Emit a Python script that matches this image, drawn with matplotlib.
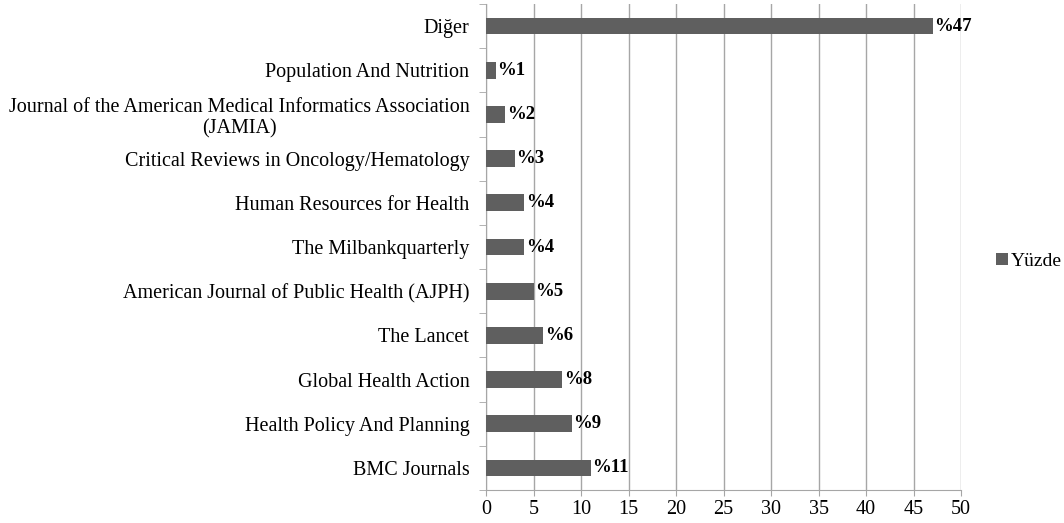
import matplotlib.pyplot as plt

plt.rcParams['font.family'] = ['Liberation Serif', 'DejaVu Serif']

# Data (top to bottom as in the chart)
journals = ['Diğer',
            'Population And Nutrition',
            'Journal of the American Medical Informatics Association\n(JAMIA)',
            'Critical Reviews in Oncology/Hematology',
            'Human Resources for Health',
            'The Milbankquarterly',
            'American Journal of Public Health (AJPH)',
            'The Lancet',
            'Global Health Action',
            'Health Policy And Planning',
            'BMC Journals']
yuzde = [47, 1, 2, 3, 4, 4, 5, 6, 8, 9, 11]
value_labels = ['%47', '%1', '%2', '%3', '%4', '%4', '%5', '%6', '%8', '%9', '%11']

bar_color = '#5f5f5f'
grid_color = '#a6a6a6'

fig = plt.figure(figsize=(10.64, 5.23), dpi=100)
ax = fig.add_axes([0.4568, 0.063, 0.4464, 0.9294])

# Reverse so first item sits at the top
pos = list(range(len(journals)))[::-1]
bars = ax.barh(pos, yuzde, height=0.38, color=bar_color, label='Yüzde', zorder=3)

for p, v, lab in zip(pos, yuzde, value_labels):
    ax.text(v + 0.2, p, lab, va='center', ha='left', fontsize=13.5,
            fontweight='bold', color='black', zorder=4)

ax.set_xlim(0, 50)
ax.set_ylim(-0.5, len(journals) - 0.5)
ax.set_xticks(range(0, 51, 5))
ax.tick_params(axis='x', labelsize=14.5, length=4, color=grid_color, pad=3)

ax.set_yticks(pos)
ax.set_yticklabels(journals, fontsize=14.5, multialignment='center')
ax.tick_params(axis='y', length=0, pad=12)
# category boundary ticks
ax.set_yticks([i - 0.5 for i in range(len(journals) + 1)], minor=True)
ax.tick_params(axis='y', which='minor', length=5, color=grid_color)

ax.grid(axis='x', color=grid_color, linewidth=1, zorder=0)
for side in ['top', 'right']:
    ax.spines[side].set_visible(False)
for side in ['left', 'bottom']:
    ax.spines[side].set_color(grid_color)

fig.legend(handles=[bars], labels=['Yüzde'], loc='center left',
           bbox_to_anchor=(0.936, 0.5), frameon=False, fontsize=14,
           borderaxespad=0, borderpad=0,
           handlelength=0.6, handleheight=0.6, handletextpad=0.15)

fig.savefig('out.png', dpi=100)
